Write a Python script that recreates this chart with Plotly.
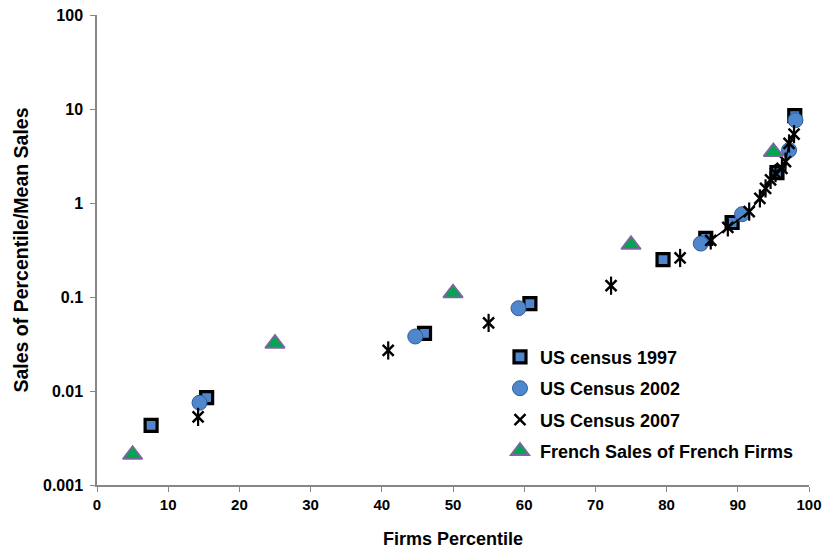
import plotly.graph_objects as go

# ---- data ----
x_1997 = [7.6, 15.4, 46.0, 60.8, 79.5, 85.5, 89.2, 95.5, 98.0]
y_1997 = [0.0043, 0.0085, 0.041, 0.085, 0.25, 0.42, 0.62, 2.1, 8.5]

x_2002 = [14.4, 44.7, 59.2, 84.8, 90.6, 97.2, 98.1]
y_2002 = [0.0075, 0.038, 0.076, 0.37, 0.76, 3.65, 7.6]

x_2007 = [14.2, 40.9, 55.0, 72.2, 81.9, 86.2, 88.6, 91.6, 93.1, 93.9, 94.6, 95.3, 96.2, 96.7, 97.2, 97.9]
y_2007 = [0.0053, 0.027, 0.053, 0.132, 0.26, 0.40, 0.55, 0.81, 1.12, 1.43, 1.76, 2.08, 2.34, 2.75, 4.3, 5.4]

x_fr = [5, 25, 50, 75, 95]
y_fr = [0.0021, 0.032, 0.11, 0.36, 3.5]

names = ["US census 1997", "US Census 2002", "US Census 2007", "French Sales of French Firms"]
y_tickvals = [0.001, 0.01, 0.1, 1, 10, 100]
y_ticktext = ["0.001", "0.01", "0.1", "1", "10", "100"]
x_tickvals = [0, 10, 20, 30, 40, 50, 60, 70, 80, 90, 100]

FONT = "Liberation Sans, Arial, sans-serif"
AXIS_COL = "#878787"

fig = go.Figure()

fig.add_trace(go.Scatter(
    x=x_1997, y=y_1997, mode="markers", name=names[0], legendgroup="a",
    marker=dict(symbol="square", size=12, color="#4F86CC", line=dict(color="black", width=3.2)),
))
fig.add_trace(go.Scatter(
    x=x_2002, y=y_2002, mode="markers", name=names[1], legendgroup="b",
    marker=dict(symbol="circle", size=15, color="#4F86CC", line=dict(color="#2F5F96", width=1)),
))
# connecting line for the dense upper part of the 2007 series
line_x = [x for x in x_2007 if x >= 86]
line_y = [y for x, y in zip(x_2007, y_2007) if x >= 86]
fig.add_trace(go.Scatter(
    x=line_x, y=line_y, mode="lines", legendgroup="c", showlegend=False,
    line=dict(color="black", width=1.5), hoverinfo="skip",
))
fig.add_trace(go.Scatter(
    x=x_2007, y=y_2007, mode="markers", name=names[2], legendgroup="c",
    marker=dict(symbol="x-thin-open", size=11, color="black", line=dict(color="black", width=2.5)),
))
fig.add_trace(go.Scatter(
    x=x_2007, y=y_2007, mode="markers", legendgroup="c", showlegend=False,
    marker=dict(symbol="line-ns-open", size=13, color="black", line=dict(color="black", width=2.2)),
))
fig.add_trace(go.Scatter(
    x=x_fr, y=y_fr, mode="markers", name=names[3], legendgroup="d",
    marker=dict(symbol="triangle-up", size=17, color="#00A650", line=dict(color="#8064A2", width=1.8)),
))

fig.update_layout(
    width=822, height=553,
    margin=dict(l=97, r=13, t=15, b=68, autoexpand=False),
    paper_bgcolor="white", plot_bgcolor="white",
    font=dict(family=FONT, color="black"),
    legend=dict(
        x=0.566, y=0.3115, xanchor="left", yanchor="top",
        font=dict(family=FONT, size=18, color="black", weight="bold"),
        traceorder="grouped", tracegroupgap=5,
        bgcolor="rgba(0,0,0,0)",
    ),
    xaxis=dict(
        range=[0, 100], tickvals=x_tickvals, showgrid=False, zeroline=False,
        showline=True, linecolor=AXIS_COL, linewidth=1.5,
        ticks="outside", ticklen=5, tickcolor=AXIS_COL, tickwidth=1,
        tickfont=dict(size=15, weight="bold"), ticklabeloverflow="allow",
        automargin=False,
        title=dict(text="Firms Percentile", font=dict(size=18, weight="bold"), standoff=21),
    ),
    yaxis=dict(
        type="log", range=[-3, 2], tickvals=y_tickvals, ticktext=y_ticktext,
        showgrid=False, zeroline=False,
        showline=True, linecolor=AXIS_COL, linewidth=1.5,
        ticks="outside", ticklen=5, tickcolor=AXIS_COL, tickwidth=1,
        tickfont=dict(size=16, weight="bold"), ticklabelstandoff=4,
        ticklabeloverflow="allow", automargin=False,
        title=dict(text="Sales of Percentile/Mean Sales", font=dict(size=19.5, weight="bold"), standoff=9),
    ),
)

fig.write_html("out.html")
